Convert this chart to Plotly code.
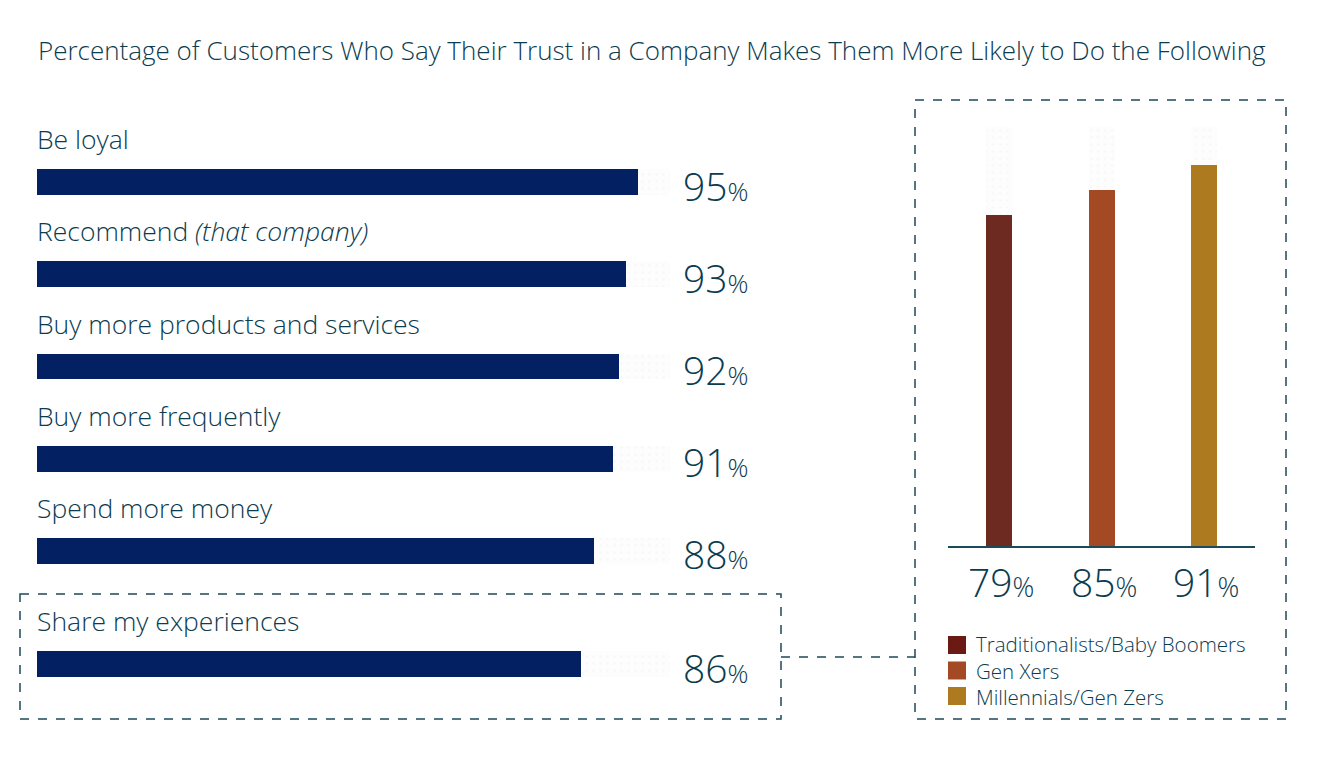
import plotly.graph_objects as go

W, H = 1344, 776
OFF = 8  # page body margin
def px(x): return (x - OFF) / W
def py(y): return 1 - (y - OFF) / H

TEXT = "#0b3c50"
NAVY = "#032162"
FONT = "Open Sans"
WT = 300

title = "Percentage of Customers Who Say Their Trust in a Company Makes Them More Likely to Do the Following"
actions = ["Be loyal", "Recommend <i>(that company)</i>", "Buy more products and services",
           "Buy more frequently", "Spend more money"]
action_vals = [95, 93, 92, 91, 88]
share_label = ["Share my experiences"]
share_val = [86]
track_max = 100

generations = ["Traditionalists/Baby Boomers", "Gen Xers", "Millennials/Gen Zers"]
gen_vals = [79, 85, 91]
gen_colors = ["#6c2a20", "#a34a24", "#ad7a20"]
legend_colors = ["#6a1a12", "#a34a24", "#ad7a20"]

fig = go.Figure()
track_pattern = dict(shape=".", bgcolor="#fdfdfd", fgcolor="#efefef", size=7, solidity=0.1)

def hbars(labels, vals, xa, ya):
    fig.add_trace(go.Bar(y=labels, x=[track_max] * len(labels), orientation="h",
                         marker=dict(color="#fdfdfd", pattern=track_pattern, line_width=0),
                         width=0.28, xaxis=xa, yaxis=ya, hoverinfo="skip", showlegend=False))
    fig.add_trace(go.Bar(y=labels, x=vals, orientation="h", marker=dict(color=NAVY, line_width=0),
                         width=0.28, xaxis=xa, yaxis=ya, showlegend=False))

hbars(actions, action_vals, "x", "y")
hbars(share_label, share_val, "x3", "y3")

fig.add_trace(go.Bar(x=generations, y=[track_max] * 3,
                     marker=dict(color="#fdfdfd", pattern=track_pattern, line_width=0),
                     width=0.254, xaxis="x2", yaxis="y2", hoverinfo="skip", showlegend=False))
fig.add_trace(go.Bar(x=generations, y=gen_vals, marker=dict(color=gen_colors, line_width=0),
                     width=0.254, xaxis="x2", yaxis="y2", showlegend=False))

annotations = []
def row_labels(labels, vals, xref, yref):
    for lab, v in zip(labels, vals):
        annotations.append(dict(x=0, y=lab, xref=xref, yref=yref, text=lab, showarrow=False,
                                xanchor="left", yanchor="middle", yshift=43, xshift=-2,
                                font=dict(family=FONT, size=26.5, color=TEXT, weight=WT)))
        annotations.append(dict(x=track_max, y=lab, xref=xref, yref=yref,
                                text=f"{v}<span style='font-size:26px'>%</span>", showarrow=False,
                                xanchor="right", yanchor="middle", xshift=81, yshift=-3,
                                font=dict(family=FONT, size=39, color=TEXT, weight=WT)))

row_labels(actions, action_vals, "x", "y")
row_labels(share_label, share_val, "x3", "y3")

for g, v in zip(generations, gen_vals):
    annotations.append(dict(x=g, y=0, xref="x2", yref="y2",
                            text=f"{v}<span style='font-size:27px'>%</span>", showarrow=False,
                            xanchor="center", yanchor="middle", yshift=-35, xshift=2,
                            font=dict(family=FONT, size=39, color=TEXT, weight=WT)))

annotations.append(dict(x=px(36), y=py(50), xref="paper", yref="paper", text=title, showarrow=False,
                        xanchor="left", yanchor="middle",
                        font=dict(family=FONT, size=26, color=TEXT, weight=WT)))

shapes = []
leg_y = [645, 670.5, 696]
for c, yy in zip(legend_colors, leg_y):
    shapes.append(dict(type="rect", xref="paper", yref="paper", x0=px(948), x1=px(966),
                       y0=py(yy - 9), y1=py(yy + 9), fillcolor=c, line_width=0))
annotations.append(dict(x=px(974), y=py(leg_y[1]), xref="paper", yref="paper",
                        text="<br>".join(generations), showarrow=False, align="left",
                        xanchor="left", yanchor="middle",
                        font=dict(family=FONT, size=20.5, color=TEXT, weight=WT)))

dash = dict(color="#1b4a5a", width=1.5, dash="dash")
shapes.append(dict(type="rect", xref="paper", yref="paper", x0=px(20), x1=px(781), y0=py(594), y1=py(719), line=dash))
shapes.append(dict(type="rect", xref="paper", yref="paper", x0=px(915), x1=px(1286), y0=py(100), y1=py(719), line=dash))
shapes.append(dict(type="line", xref="paper", yref="paper", x0=px(781), x1=px(915), y0=py(657), y1=py(657), line=dash))

hidden = dict(showgrid=False, zeroline=False, showticklabels=False, ticks="")
fig.update_layout(
    width=W, height=H, margin=dict(l=0, r=0, t=0, b=0),
    paper_bgcolor="white", plot_bgcolor="white", barmode="overlay",
    xaxis=dict(domain=[px(37), px(670)], range=[0, 100], anchor="y", **hidden),
    yaxis=dict(domain=[py(597), py(136)], range=[4.5, -0.5], type="category", anchor="x", **hidden),
    xaxis3=dict(domain=[px(37), px(670)], range=[0, 100], anchor="y3", **hidden),
    yaxis3=dict(domain=[py(710), py(618)], range=[0.5, -0.5], type="category", anchor="x3", **hidden),
    xaxis2=dict(domain=[px(947.75), px(1255.25)], range=[-0.5, 2.5], anchor="y2", showline=True,
                linecolor="#1b4a5a", linewidth=2, **hidden),
    yaxis2=dict(domain=[py(546), py(127)], range=[0, 100], anchor="x2", **hidden),
    annotations=annotations, shapes=shapes, bargap=0,
)
fig.write_html("out.html")
